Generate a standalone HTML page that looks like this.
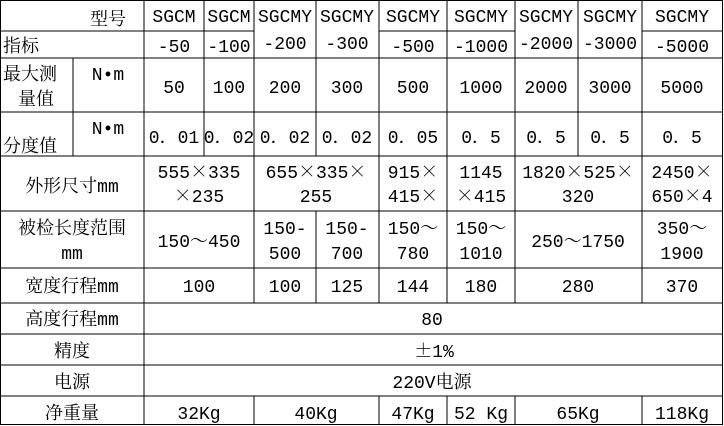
<!DOCTYPE html>
<html><head><meta charset="utf-8"><style>
html,body{margin:0;padding:0;background:#fff;}
svg{display:block}
text{font-family:"Liberation Mono","Noto Serif CJK SC",monospace;font-size:18px;fill:#000;}
.c{text-anchor:middle}
.k{font-family:"Noto Serif CJK SC",serif;}
</style></head><body>
<svg width="724" height="426" viewBox="0 0 724 426" xmlns="http://www.w3.org/2000/svg">
<g stroke="#000" stroke-width="1.3" fill="none" shape-rendering="crispEdges">
<rect x="0.5" y="0.5" width="722" height="424"/>
<line x1="0" y1="31" x2="254" y2="31"/>
<line x1="379" y1="31" x2="515" y2="31"/>
<line x1="642" y1="31" x2="722" y2="31"/>
<line x1="0" y1="58" x2="722" y2="58"/>
<line x1="0" y1="112" x2="722" y2="112"/>
<line x1="0" y1="156" x2="722" y2="156"/>
<line x1="0" y1="211" x2="722" y2="211"/>
<line x1="0" y1="268" x2="722" y2="268"/>
<line x1="0" y1="303" x2="722" y2="303"/>
<line x1="0" y1="334" x2="722" y2="334"/>
<line x1="0" y1="365" x2="722" y2="365"/>
<line x1="0" y1="396" x2="722" y2="396"/>
<line x1="73" y1="58" x2="73" y2="156"/>
<line x1="144" y1="0" x2="144" y2="425"/>
<line x1="204" y1="0" x2="204" y2="156"/>
<line x1="254" y1="0" x2="254" y2="303"/>
<line x1="254" y1="396" x2="254" y2="425"/>
<line x1="316" y1="0" x2="316" y2="156"/>
<line x1="316" y1="211" x2="316" y2="303"/>
<line x1="379" y1="0" x2="379" y2="303"/>
<line x1="379" y1="396" x2="379" y2="425"/>
<line x1="447" y1="0" x2="447" y2="303"/>
<line x1="447" y1="396" x2="447" y2="425"/>
<line x1="515" y1="0" x2="515" y2="303"/>
<line x1="515" y1="396" x2="515" y2="425"/>
<line x1="578" y1="0" x2="578" y2="156"/>
<line x1="642" y1="0" x2="642" y2="303"/>
<line x1="642" y1="396" x2="642" y2="425"/>
</g>
<text x="108" y="25" class="c">型号</text>
<text x="3" y="52">指标</text>
<text x="174" y="22" class="c">SGCM</text><text x="174" y="52" class="c">-50</text>
<text x="229" y="22" class="c">SGCM</text><text x="229" y="52" class="c">-100</text>
<text x="285" y="22" class="c">SGCMY</text><text x="285" y="49" class="c">-200</text>
<text x="347" y="22" class="c">SGCMY</text><text x="347" y="49" class="c">-300</text>
<text x="413" y="22" class="c">SGCMY</text><text x="413" y="52" class="c">-500</text>
<text x="481" y="22" class="c">SGCMY</text><text x="481" y="52" class="c">-1000</text>
<text x="546" y="22" class="c">SGCMY</text><text x="546" y="49" class="c">-2000</text>
<text x="610" y="22" class="c">SGCMY</text><text x="610" y="49" class="c">-3000</text>
<text x="682" y="22" class="c">SGCMY</text><text x="682" y="52" class="c">-5000</text>
<text x="3" y="80">最大测</text><text x="36" y="105" class="c">量值</text>
<text x="108" y="80" class="c">N•m</text>
<text x="174" y="93" class="c">50</text><text x="229" y="93" class="c">100</text><text x="285" y="93" class="c">200</text><text x="347" y="93" class="c">300</text><text x="413" y="93" class="c">500</text><text x="481" y="93" class="c">1000</text><text x="546" y="93" class="c">2000</text><text x="610" y="93" class="c">3000</text><text x="682" y="93" class="c">5000</text>
<text x="108" y="134" class="c">N•m</text>
<text x="3" y="152">分度值</text>
<text x="174" y="143" class="c">0．01</text><text x="229" y="143" class="c">0．02</text><text x="285" y="143" class="c">0．02</text><text x="347" y="143" class="c">0．02</text><text x="413" y="143" class="c">0．05</text><text x="481" y="143" class="c">0．5</text><text x="546" y="143" class="c">0．5</text><text x="610" y="143" class="c">0．5</text><text x="682" y="143" class="c">0．5</text>
<text x="72" y="192" class="c">外形尺寸mm</text>
<text x="199" y="178" class="c">555<tspan class="k">×</tspan>335</text><text x="199" y="202" class="c"><tspan class="k">×</tspan>235</text>
<text x="316" y="178" class="c">655<tspan class="k">×</tspan>335<tspan class="k">×</tspan></text><text x="316" y="202" class="c">255</text>
<text x="413" y="178" class="c">915<tspan class="k">×</tspan></text><text x="413" y="202" class="c">415<tspan class="k">×</tspan></text>
<text x="481" y="178" class="c">1145</text><text x="481" y="202" class="c"><tspan class="k">×</tspan>415</text>
<text x="578" y="178" class="c">1820<tspan class="k">×</tspan>525<tspan class="k">×</tspan></text><text x="578" y="202" class="c">320</text>
<text x="682" y="178" class="c">2450<tspan class="k">×</tspan></text><text x="682" y="202" class="c">650<tspan class="k">×</tspan>4</text>
<text x="72" y="234" class="c">被检长度范围</text><text x="72" y="259" class="c">mm</text>
<text x="199" y="247" class="c">150～450</text>
<text x="285" y="234" class="c">150-</text><text x="285" y="259" class="c">500</text>
<text x="347" y="234" class="c">150-</text><text x="347" y="259" class="c">700</text>
<text x="413" y="234" class="c">150～</text><text x="413" y="259" class="c">780</text>
<text x="481" y="234" class="c">150～</text><text x="481" y="259" class="c">1010</text>
<text x="578" y="247" class="c">250～1750</text>
<text x="682" y="234" class="c">350～</text><text x="682" y="259" class="c">1900</text>
<text x="72" y="292" class="c">宽度行程mm</text>
<text x="199" y="292" class="c">100</text><text x="285" y="292" class="c">100</text><text x="347" y="292" class="c">125</text><text x="413" y="292" class="c">144</text><text x="481" y="292" class="c">180</text><text x="578" y="292" class="c">280</text><text x="682" y="292" class="c">370</text>
<text x="72" y="325" class="c">高度行程mm</text><text x="432" y="325" class="c">80</text>
<text x="72" y="357" class="c">精度</text><text x="434" y="357" class="c"><tspan class="k">±</tspan>1%</text>
<text x="72" y="388" class="c">电源</text><text x="432" y="388" class="c">220V电源</text>
<text x="72" y="419" class="c">净重量</text>
<text x="199" y="419" class="c">32Kg</text><text x="316" y="419" class="c">40Kg</text><text x="413" y="419" class="c">47Kg</text><text x="481" y="419" class="c">52 Kg</text><text x="578" y="419" class="c">65Kg</text><text x="682" y="419" class="c">118Kg</text>
</svg>
</body></html>
